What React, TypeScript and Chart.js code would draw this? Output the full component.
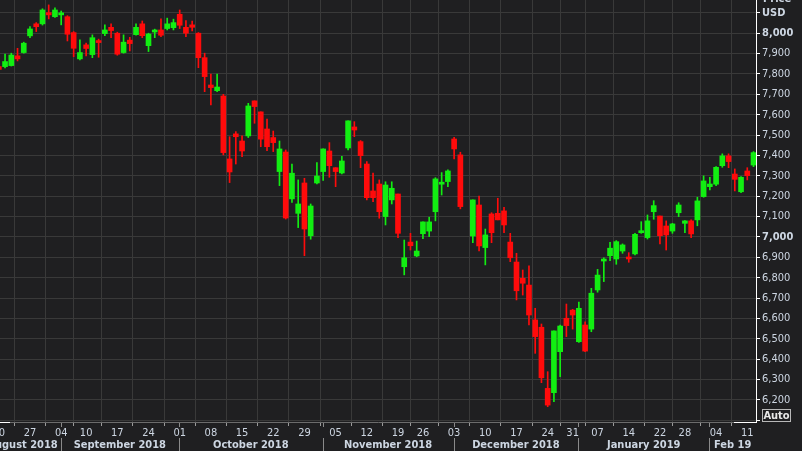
import React, { useEffect, useRef } from 'react';
import { Chart, registerables } from 'chart.js';
Chart.register(...registerables);

// ---- data (trading-day slots; 2018-12-05 was a closed session, left empty) ----
const dates = [
  '2018-08-20','2018-08-21','2018-08-22','2018-08-23','2018-08-24',
  '2018-08-27','2018-08-28','2018-08-29','2018-08-30','2018-08-31',
  '2018-09-04','2018-09-05','2018-09-06','2018-09-07',
  '2018-09-10','2018-09-11','2018-09-12','2018-09-13','2018-09-14',
  '2018-09-17','2018-09-18','2018-09-19','2018-09-20','2018-09-21',
  '2018-09-24','2018-09-25','2018-09-26','2018-09-27','2018-09-28',
  '2018-10-01','2018-10-02','2018-10-03','2018-10-04','2018-10-05',
  '2018-10-08','2018-10-09','2018-10-10','2018-10-11','2018-10-12',
  '2018-10-15','2018-10-16','2018-10-17','2018-10-18','2018-10-19',
  '2018-10-22','2018-10-23','2018-10-24','2018-10-25','2018-10-26',
  '2018-10-29','2018-10-30','2018-10-31','2018-11-01','2018-11-02',
  '2018-11-05','2018-11-06','2018-11-07','2018-11-08','2018-11-09',
  '2018-11-12','2018-11-13','2018-11-14','2018-11-15','2018-11-16',
  '2018-11-19','2018-11-20','2018-11-21','2018-11-23',
  '2018-11-26','2018-11-27','2018-11-28','2018-11-29','2018-11-30',
  '2018-12-03','2018-12-04','2018-12-05','2018-12-06','2018-12-07',
  '2018-12-10','2018-12-11','2018-12-12','2018-12-13','2018-12-14',
  '2018-12-17','2018-12-18','2018-12-19','2018-12-20','2018-12-21',
  '2018-12-24','2018-12-26','2018-12-27','2018-12-28',
  '2018-12-31','2019-01-02','2019-01-03','2019-01-04',
  '2019-01-07','2019-01-08','2019-01-09','2019-01-10','2019-01-11',
  '2019-01-14','2019-01-15','2019-01-16','2019-01-17','2019-01-18',
  '2019-01-22','2019-01-23','2019-01-24','2019-01-25',
  '2019-01-28','2019-01-29','2019-01-30','2019-01-31','2019-02-01',
  '2019-02-04','2019-02-05','2019-02-06','2019-02-07','2019-02-08',
  '2019-02-11','2019-02-12',
];

const openValues: (number | null)[] = [
  7836,7836,7841,7889,7905, 7987,8046,8046,8101,8081,
  8090,8081,8003,7874, 7943,7895,7964,7998,8029,
  8000,7905,7966,7993,8046, 7939,8006,8016,8023,8027,
  8093,8029,8041,8000,7880, 7746,7718,7692,7383,7506,
  7471,7496,7668,7614,7530, 7488,7321,7417,7187,7116,
  7265,7006,7265,7321,7422, 7340,7314,7437,7540,7468,
  7358,7226,7260,7100,7182, 7211,6854,6975,6907,
  7016,7029,7124,7259,7272, 7481,7403,null,7005,7157,
  6948,7113,7116,7128,6975, 6877,6797,6764,6593,6557,
  6257,6236,6437,6601, 6641,6486,6568,6548,
  6740,6882,6908,6892,6931, 6901,6917,7021,6997,7124,
  7103,7054,7029,7119, 7067,7079,7084,7198,7247,
  7259,7350,7398,7309,7222, 7324,7353,
];
const highValues: (number | null)[] = [
  7845,7898,7902,7926,7956, 8032,8052,8120,8139,8124,
  8109,8086,8008,7967, 7951,7992,7971,8041,8046,
  8005,7992,7980,8046,8060, 8000,8020,8070,8074,8069,
  8114,8062,8060,8003,7902, 7800,7800,7700,7492,7517,
  7496,7656,7668,7614,7579, 7520,7471,7427,7358,7280,
  7288,7162,7365,7432,7463, 7340,7396,7570,7566,7473,
  7370,7313,7280,7271,7271, 7211,6985,7018,6980,
  7074,7097,7291,7316,7330, 7489,7416,null,7182,7201,
  7039,7119,7190,7146,7018, 6920,6838,6859,6650,6573,
  6339,6539,6568,6671, 6645,6680,6584,6748,
  6841,6898,6974,6982,6966, 6923,7018,7075,7108,7178,
  7103,7079,7067,7168, 7081,7084,7195,7300,7293,
  7345,7408,7408,7334,7296, 7340,7419,
];
const lowValues: (number | null)[] = [
  7815,7830,7839,7864,7902, 7978,8008,8040,8070,8078,
  8041,7962,7885,7869, 7889,7880,7882,7988,7978,
  7892,7902,7913,7990,7978, 7910,7978,7983,8016,8016,
  8023,7983,8011,7831,7713, 7648,7713,7403,7267,7358,
  7394,7488,7558,7443,7424, 7419,7252,7088,7170,7046,
  6908,6989,7260,7277,7293, 7247,7309,7427,7492,7340,
  7182,7173,7092,7059,7162, 6997,6814,6936,6903,
  6992,7002,7079,7206,7247, 7383,7138,null,6972,6931,
  6863,6972,7084,7021,6879, 6691,6715,6568,6429,6285,
  6167,6192,6314,6511, 6548,6483,6437,6535,
  6729,6781,6884,6866,6920, 6876,6912,7018,6990,7087,
  6966,6936,7018,7100, 7021,6997,7055,7195,7231,
  7252,7342,7340,7226,7218, 7280,7345,
];
const closeValues: (number | null)[] = [
  7822,7861,7893,7874,7951, 8021,8032,8114,8090,8114,
  8095,7995,7926,7905, 7925,7978,7954,8016,8013,
  7897,7956,7949,8029,7988, 7996,8011,7990,8046,8052,
  8039,8000,8029,7880,7787, 7733,7736,7414,7319,7492,
  7422,7643,7640,7480,7443, 7463,7432,7093,7313,7162,
  7039,7152,7299,7432,7350, 7321,7373,7570,7525,7399,
  7193,7193,7124,7255,7239, 7018,6898,6957,6931,
  7074,7074,7285,7267,7324, 7432,7149,null,7182,6956,
  7010,7021,7084,7059,6898, 6736,6773,6617,6511,6309,
  6175,6539,6563,6565, 6617,6650,6440,6724,
  6813,6891,6945,6977,6961, 6892,7013,7026,7079,7154,
  7006,7010,7064,7157, 7079,7015,7177,7275,7260,
  7342,7398,7370,7283,7293, 7301,7414,
];

const monthLabels = ['August 2018', 'September 2018', 'October 2018', 'November 2018', 'December 2018', 'January 2019', 'Feb 19'];

// ---- styling ----
const BG = '#1f1f21';
const GRID = '#393939';
const TEXT = '#cdd6e2';
const UP = '#12ee12';
const DOWN = '#ff0b0b';
const FONT = '"DejaVu Sans Condensed", "Liberation Sans", sans-serif';
const X_MIN = 0.19;
const X_MAX = 121.4;
const Y_MIN = 6092;
const Y_MAX = 8163;

// derived: week starts (tick positions) and month changes
const dayNum = (s: string) => Date.UTC(+s.slice(0, 4), +s.slice(5, 7) - 1, +s.slice(8, 10)) / 86400000;
const weekStarts: number[] = [];
dates.forEach((d, i) => {
  if (i === 0) { weekStarts.push(i); return; }
  const a = dayNum(dates[i - 1]);
  const b = dayNum(d);
  const wa = new Date(a * 86400000).getUTCDay();
  const wb = new Date(b * 86400000).getUTCDay();
  if (wb <= wa || b - a >= 7) weekStarts.push(i);
});
const monthStarts: number[] = [];
dates.forEach((d, i) => {
  if (i > 0 && d.slice(5, 7) !== dates[i - 1].slice(5, 7)) monthStarts.push(i);
});
const separators = monthStarts.map((i) => i - 0.1);
const monthCenters: number[] = [separators[0] - 6.1];
for (let k = 0; k < separators.length; k++) {
  const right = k + 1 < separators.length ? separators[k + 1] : X_MAX;
  monthCenters.push((separators[k] + right) / 2);
}

export default function App() {
  const ref = useRef<HTMLCanvasElement>(null);
  useEffect(() => {
    const wick: any[] = [];
    const body: any[] = [];
    const colors: string[] = [];
    dates.forEach((_, i) => {
      const o = openValues[i], h = highValues[i], l = lowValues[i], c = closeValues[i];
      if (o == null || h == null || l == null || c == null) return;
      wick.push({ x: i, y: [l, h] });
      body.push({ x: i, y: [o, c] });
      colors.push(c >= o ? UP : DOWN);
    });

    const decor = {
      id: 'decor',
      afterDraw(chart: any) {
        const ctx = chart.ctx;
        const x2 = chart.scales.x2;
        const area = chart.chartArea;
        ctx.save();
        // month separators
        ctx.strokeStyle = '#8a8a8a';
        ctx.lineWidth = 1;
        separators.forEach((s) => {
          const px = Math.round(x2.getPixelForValue(s)) + 0.5;
          ctx.beginPath();
          ctx.moveTo(px, area.bottom + 1);
          ctx.lineTo(px, area.bottom + 5);
          ctx.moveTo(px, area.bottom + 16);
          ctx.lineTo(px, chart.height);
          ctx.stroke();
        });
        // highlighted segments of the bottom axis
        ctx.strokeStyle = '#ffffff';
        ctx.beginPath();
        ctx.moveTo(area.left, area.bottom + 0.5);
        ctx.lineTo(area.left + 10, area.bottom + 0.5);
        ctx.moveTo(area.right - 22, area.bottom + 0.5);
        ctx.lineTo(area.right, area.bottom + 0.5);
        ctx.stroke();
        // axis title above USD
        ctx.fillStyle = TEXT;
        ctx.font = 'bold 11px ' + FONT;
        ctx.textAlign = 'left';
        ctx.textBaseline = 'middle';
        ctx.fillText('Price', area.right + 7, -1);
        // Auto box
        ctx.strokeStyle = '#b8b8b8';
        ctx.strokeRect(762.5, 409.5, 28, 12);
        ctx.fillStyle = '#e8e8e8';
        ctx.textAlign = 'center';
        ctx.fillText('Auto', 776.5, 416);
        ctx.restore();
      },
    };

    const chart = new Chart(ref.current!, {
      type: 'bar',
      data: {
        datasets: [
          { label: 'range', data: wick, backgroundColor: colors, barThickness: 1, grouped: false, borderWidth: 0, order: 2 } as any,
          { label: 'body', data: body, backgroundColor: colors, barThickness: 5, grouped: false, borderWidth: 0, minBarLength: 2, order: 1 } as any,
        ],
      },
      options: {
        animation: false,
        responsive: false,
        devicePixelRatio: 1,
        layout: { padding: 0 },
        plugins: { legend: { display: false }, tooltip: { enabled: false } },
        scales: {
          x: {
            type: 'linear',
            position: 'bottom',
            weight: 0,
            min: X_MIN,
            max: X_MAX,
            offset: false,
            grid: { color: GRID, tickLength: 4, tickColor: '#9a9a9a', drawTicks: true },
            border: { color: '#6c6c6c' },
            ticks: {
              color: TEXT,
              font: { family: FONT, size: 11 },
              padding: 1,
              autoSkip: false,
              maxRotation: 0,
              callback: (v: any) => (dates[Math.round(v)] || '').slice(8, 10),
            },
            afterBuildTicks: (s: any) => { s.ticks = weekStarts.map((i) => ({ value: i })); },
            afterFit: (s: any) => { s.height = 16; s.paddingLeft = 0; s.paddingRight = 0; },
          } as any,
          x2: {
            type: 'linear',
            position: 'bottom',
            weight: 1,
            min: X_MIN,
            max: X_MAX,
            offset: false,
            grid: { display: false, drawTicks: false },
            border: { display: false },
            ticks: {
              color: TEXT,
              font: { family: FONT, size: 11, weight: 'bold' },
              padding: 1,
              autoSkip: false,
              maxRotation: 0,
              callback: (_v: any, idx: number) => monthLabels[idx],
            },
            afterBuildTicks: (s: any) => { s.ticks = monthCenters.map((c) => ({ value: c })); },
            afterFit: (s: any) => { s.height = 13; s.paddingLeft = 0; s.paddingRight = 0; },
          } as any,
          y: {
            position: 'right',
            min: Y_MIN,
            max: Y_MAX,
            grid: { color: GRID, tickLength: 4, tickColor: '#ffffff' },
            border: { color: '#ffffff' },
            ticks: {
              stepSize: 100,
              includeBounds: false,
              color: TEXT,
              padding: 2,
              font: (ctx: any) => ({
                family: FONT,
                size: 11,
                weight: ctx.tick && (ctx.tick.value % 1000 === 0 || ctx.tick.value === 8100) ? 'bold' : 'normal',
              }),
              callback: (v: any) => (v === 8100 ? 'USD' : v < 6200 ? '' : Number(v).toLocaleString('en-US')),
            },
            afterFit: (s: any) => { s.width = 46; s.paddingTop = 0; s.paddingBottom = 0; },
          } as any,
        },
      },
      plugins: [decor],
    });
    return () => chart.destroy();
  }, []);

  return (
    <div style={{ position: 'fixed', left: 0, top: 0, width: 802, height: 451, background: BG }}>
      <canvas ref={ref} width={802} height={451} style={{ display: 'block' }} />
    </div>
  );
}
